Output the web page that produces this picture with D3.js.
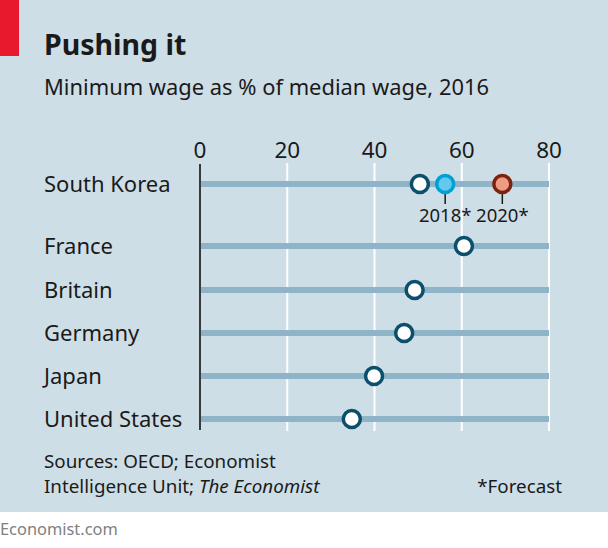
<!DOCTYPE html>
<html><head><meta charset="utf-8">
<script src="https://cdn.jsdelivr.net/npm/d3@7"></script>
<style>body{margin:0;background:#fff}svg{display:block}</style>
</head><body>
<script>
const countries = ["South Korea","France","Britain","Germany","Japan","United States"];
const values2016 = [50.4, 60.5, 49.2, 46.8, 39.9, 34.8];
const forecastLabels = ["2018*","2020*"];
const forecastValues = [56.2, 69.3];
const xTicks = [0,20,40,60,80];

const W=608,H=548;
const svg=d3.select("body").append("svg").attr("width",W).attr("height",H);
const font="'Noto Sans', sans-serif";
svg.append("rect").attr("width",W).attr("height",512).attr("fill","#cedee7");
svg.append("rect").attr("x",0).attr("y",0).attr("width",19).attr("height",56).attr("fill","#e8192c");
svg.append("text").attr("x",44).attr("y",55).attr("font-family",font).attr("font-weight",700).attr("font-size",28.5).attr("fill","#1a1a1a").text("Pushing it");
svg.append("text").attr("x",44).attr("y",95).attr("font-family",font).attr("font-size",21.9).attr("fill","#1a1a1a").text("Minimum wage as % of median wage, 2016");

const x=d3.scaleLinear().domain([0,80]).range([200,549]);
const rowY={"South Korea":184,"France":246,"Britain":290,"Germany":333,"Japan":376,"United States":419};
const yy=d=>rowY[d];

svg.append("g").selectAll("line").data(xTicks.filter(d=>d>0)).join("line")
 .attr("x1",d=>x(d)).attr("x2",d=>x(d)).attr("y1",163).attr("y2",431)
 .attr("stroke","#fff").attr("stroke-width",2);
svg.append("g").selectAll("text").data(xTicks).join("text")
 .attr("x",d=>x(d)).attr("y",158).attr("text-anchor","middle")
 .attr("font-family",font).attr("font-size",22.5).attr("fill","#1a1a1a").text(d=>d);
svg.append("g").selectAll("line").data(countries).join("line")
 .attr("x1",x(0)).attr("x2",x(80)).attr("y1",yy).attr("y2",yy)
 .attr("stroke","#90b4c7").attr("stroke-width",6);
svg.append("line").attr("x1",x(0)).attr("x2",x(0)).attr("y1",164).attr("y2",430).attr("stroke","#3a3a3a").attr("stroke-width",2);
svg.append("g").selectAll("text").data(countries).join("text")
 .attr("x",44).attr("y",d=>yy(d)+8).attr("font-family",font).attr("font-size",22).attr("fill","#1a1a1a").text(d=>d);
const fStroke=["#00a0d2","#7a2410"], fFill=["#62c9ef","#ee9b82"];
forecastValues.forEach((v,i)=>{
  svg.append("line").attr("x1",x(v)).attr("x2",x(v)).attr("y1",194).attr("y2",204).attr("stroke","#1a1a1a").attr("stroke-width",1.5);
  svg.append("text").attr("x",x(v)).attr("y",222).attr("text-anchor","middle").attr("font-family",font).attr("font-size",18.5).attr("fill","#1a1a1a").text(forecastLabels[i]);
});
svg.append("g").selectAll("circle").data(countries).join("circle")
 .attr("cx",(d,i)=>x(values2016[i])).attr("cy",yy).attr("r",8.5)
 .attr("fill","#fff").attr("stroke","#0b4f6c").attr("stroke-width",3.5);
forecastValues.forEach((v,i)=>{
  svg.append("circle").attr("cx",x(v)).attr("cy",yy("South Korea")).attr("r",8.5)
   .attr("fill",fFill[i]).attr("stroke",fStroke[i]).attr("stroke-width",3.5);
});
const ft=svg.append("g").attr("font-family",font).attr("font-size",18.8).attr("fill","#1a1a1a");
ft.append("text").attr("x",44).attr("y",468).text("Sources: OECD; Economist");
const t2=ft.append("text").attr("x",44).attr("y",493);
t2.append("tspan").text("Intelligence Unit; ");
t2.append("tspan").attr("font-style","italic").text("The Economist");
ft.append("text").attr("x",562).attr("y",493).attr("text-anchor","end").text("*Forecast");
svg.append("text").attr("x",0).attr("y",535).attr("font-family",font).attr("font-size",16.4).attr("fill","#808080").text("Economist.com");
</script>
</body></html>
